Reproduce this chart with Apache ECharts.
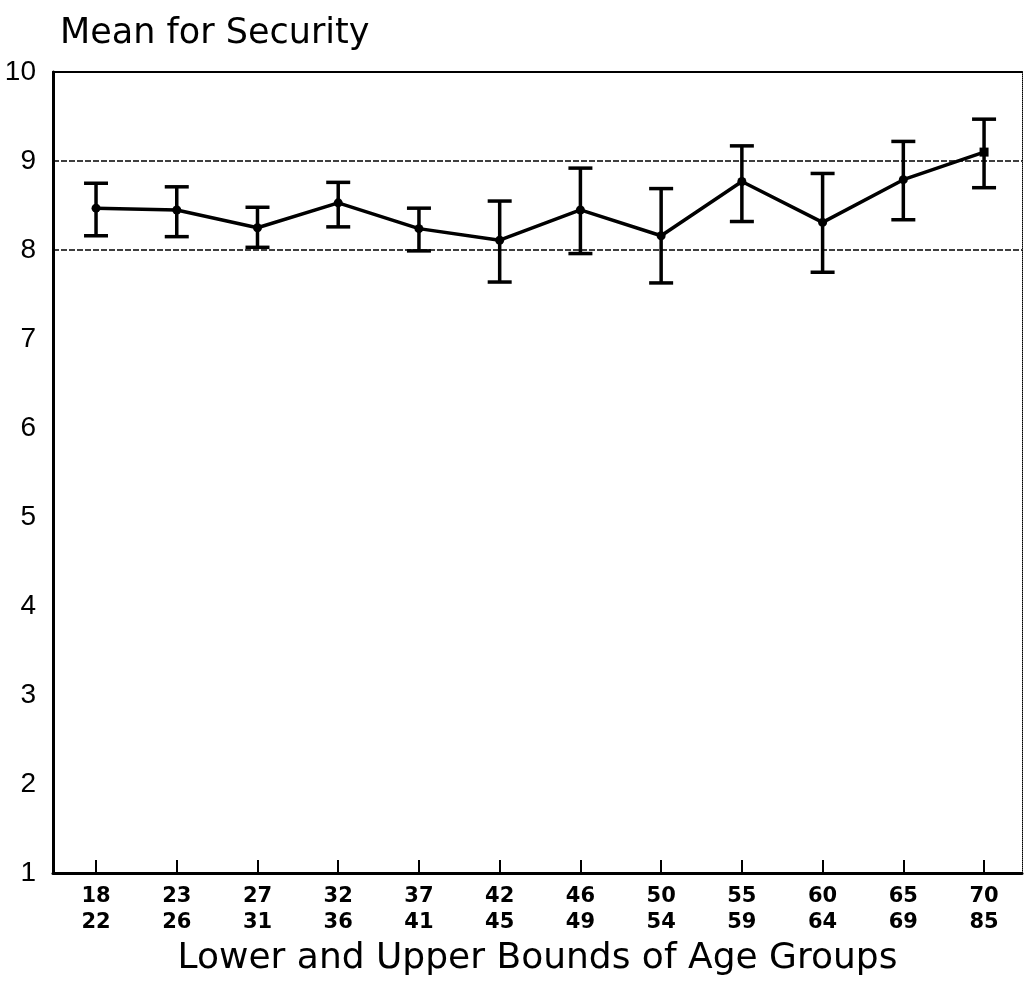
<!DOCTYPE html>
<html>
<head>
<meta charset="utf-8">
<script src="https://cdn.jsdelivr.net/npm/echarts@6/dist/echarts.min.js"></script>
<style>html,body{margin:0;padding:0;background:#fff}#c{width:1024px;height:987px}</style>
</head>
<body>
<div id="c"></div>
<script>
// Data
const lowerBounds = ['18','23','27','32','37','42','46','50','55','60','65','70'];
const upperBounds = ['22','26','31','36','41','45','49','54','59','64','69','85'];
const means = [8.47, 8.45, 8.25, 8.53, 8.24, 8.11, 8.45, 8.16, 8.77, 8.31, 8.79, 9.10];
const errUpper = [8.75, 8.71, 8.48, 8.76, 8.47, 8.55, 8.92, 8.69, 9.17, 8.86, 9.22, 9.47];
const errLower = [8.16, 8.15, 8.03, 8.26, 7.99, 7.64, 7.96, 7.63, 8.32, 7.75, 8.34, 8.70];
const yTicks = [1,2,3,4,5,6,7,8,9,10];
const refLines = [8, 9];

const idx = means.map((_, i) => i);
const chart = echarts.init(document.getElementById('c'));
const font = 'DejaVu Sans';

chart.setOption({
  backgroundColor: '#fff',
  animation: false,
  title: {
    text: 'Mean for Security',
    left: 55, top: 11,
    textStyle: {fontFamily: font, fontSize: 35, fontWeight: 'normal', color: '#000'}
  },
  grid: {left: 53, right: 2, top: 72, bottom: 114, outerBoundsMode: 'none', containLabel: false},
  xAxis: [{
    type: 'value', min: -0.533, max: 11.47, position: 'bottom',
    axisLine: {show: true, onZero: false, lineStyle: {color: '#000', width: 3}},
    axisTick: {show: true, inside: true, length: 13, customValues: idx, lineStyle: {color: '#000', width: 2}},
    axisLabel: {
      show: true, customValues: idx, margin: 11,
      formatter: v => lowerBounds[Math.round(v)] + '\n' + upperBounds[Math.round(v)],
      fontFamily: font, fontSize: 21, fontWeight: 'bold', lineHeight: 26, color: '#000'
    },
    splitLine: {show: false},
    name: 'Lower and Upper Bounds of Age Groups',
    nameLocation: 'middle', nameGap: 63,
    nameTextStyle: {fontFamily: font, fontSize: 36, color: '#000'}
  }, {
    type: 'value', min: -0.533, max: 11.47, position: 'top',
    axisLine: {show: true, onZero: false, lineStyle: {color: '#000', width: 2}},
    axisTick: {show: false}, axisLabel: {show: false}, splitLine: {show: false}
  }],
  yAxis: [{
    type: 'value', min: 1, max: 10, interval: 1, position: 'left',
    axisLine: {show: true, onZero: false, lineStyle: {color: '#000', width: 3}},
    axisTick: {show: false},
    axisLabel: {margin: 17, fontFamily: 'Liberation Sans', fontSize: 28, color: '#000',
      formatter: v => yTicks.includes(v) ? String(v) : ''},
    splitLine: {show: false}
  }, {
    type: 'value', min: 1, max: 10, position: 'right',
    axisLine: {show: true, onZero: false, lineStyle: {color: '#000', width: 1, type: 'dotted'}},
    axisTick: {show: false}, axisLabel: {show: false}, splitLine: {show: false}
  }],
  series: [{
    type: 'custom',
    xAxisIndex: 0, yAxisIndex: 0,
    data: idx.map(i => [i, errLower[i], errUpper[i]]),
    renderItem: (params, api) => {
      const x = api.value(0);
      const lo = api.coord([x, api.value(1)]);
      const hi = api.coord([x, api.value(2)]);
      const hw = 12;
      const st = {stroke: '#000', lineWidth: 3.5};
      return {type: 'group', children: [
        {type: 'line', shape: {x1: lo[0], y1: lo[1], x2: hi[0], y2: hi[1]}, style: st},
        {type: 'line', shape: {x1: lo[0]-hw, y1: lo[1], x2: lo[0]+hw, y2: lo[1]}, style: st},
        {type: 'line', shape: {x1: hi[0]-hw, y1: hi[1], x2: hi[0]+hw, y2: hi[1]}, style: st}
      ]};
    },
    z: 3
  }, {
    type: 'line',
    xAxisIndex: 0, yAxisIndex: 0,
    data: idx.map(i => ({value: [i, means[i]], symbol: i === means.length - 1 ? 'rect' : 'circle'})),
    symbolSize: 9,
    lineStyle: {color: '#000', width: 3.5},
    itemStyle: {color: '#000'},
    z: 4,
    markLine: {
      silent: true, symbol: 'none', label: {show: false},
      lineStyle: {color: '#000', width: 1.5, type: [6, 2]},
      data: refLines.map(v => ({yAxis: v}))
    }
  }]
});
</script>
</body>
</html>
